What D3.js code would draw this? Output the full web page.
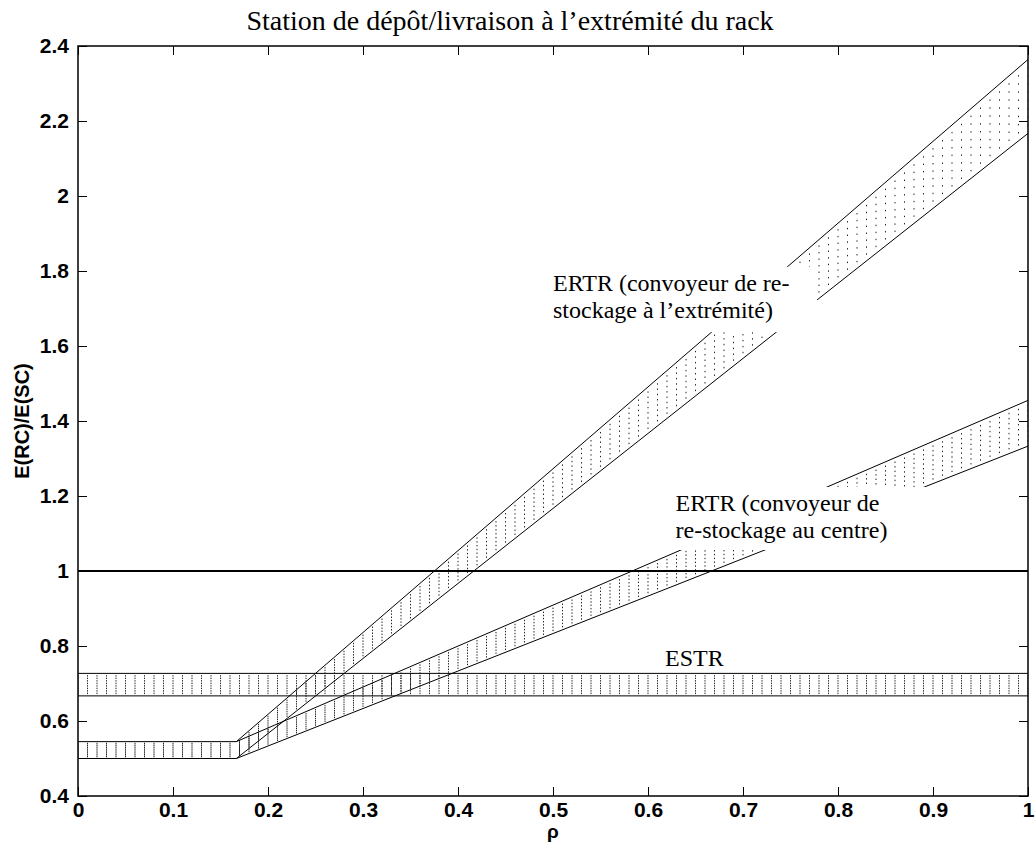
<!DOCTYPE html>
<html>
<head>
<meta charset="utf-8">
<script src="https://cdn.jsdelivr.net/npm/d3@7"></script>
<style>
  body { margin: 0; background: #fff; }
  text { fill: #000; }
</style>
</head>
<body>
<svg id="chart" width="1036" height="856"></svg>
<script>
    // tick labels
    const rhoTicks = [0, 0.1, 0.2, 0.3, 0.4, 0.5, 0.6, 0.7, 0.8, 0.9, 1];
    const ratioTicks = [0.4, 0.6, 0.8, 1, 1.2, 1.4, 1.6, 1.8, 2, 2.2, 2.4];

    // bands: rho knots, lower bound, upper bound
    const baseRho = [0, 1 / 6];
    const baseLow = [0.5, 0.5];
    const baseHigh = [0.545, 0.545];

    const ertrRho = [1 / 6, 1];
    const extremLow = [0.5, 2.167];
    const extremHigh = [0.545, 2.364];
    const centreLow = [0.5, 1.333];
    const centreHigh = [0.545, 1.455];

    const estrRho = [0, 1];
    const estrLow = [0.667, 0.667];
    const estrHigh = [0.727, 0.727];

    const refLevel = 1;

    const svg = d3.select("#chart"),
          margin = {top: 46, right: 8, bottom: 60, left: 78},
          width = +svg.attr("width") - margin.left - margin.right,
          height = +svg.attr("height") - margin.top - margin.bottom;

    svg.append("rect").attr("width", 1036).attr("height", 856).attr("fill", "#fff");

    const g = svg.append("g").attr("transform", `translate(${margin.left},${margin.top})`);

    const x = d3.scaleLinear().domain([0, 1]).range([0, width]);
    const y = d3.scaleLinear().domain([0.4, 2.4]).range([height, 0]);

    svg.append("defs").append("clipPath").attr("id", "plot")
      .append("rect").attr("width", width).attr("height", height);

    const plot = g.append("g").attr("clip-path", "url(#plot)");

    // dotted vertical hatching, one column every 0.01 of rho
    function hatch(rhos, lows, highs) {
      const lo = d3.scaleLinear().domain(rhos).range(lows);
      const hi = d3.scaleLinear().domain(rhos).range(highs);
      const cols = d3.range(Math.ceil(rhos[0] * 100 - 1e-9), Math.floor(rhos[1] * 100 + 1e-9) + 1).map(k => k / 100);
      const dots = [];
      cols.forEach(r => {
        const y0 = y(lo(r)), y1 = y(hi(r));
        for (let i = 1; i <= 8; i++) dots.push([x(r), y0 + (y1 - y0) * i / 9]);
      });
      plot.append("g").selectAll("rect")
        .data(dots)
        .enter().append("rect")
        .attr("x", d => d[0] - 0.5)
        .attr("y", d => d[1] - 0.7)
        .attr("width", 1)
        .attr("height", 1.4)
        .attr("fill", "#222");
    }

    function edges(rhos, lows, highs) {
      const line = d3.line().x(d => x(d[0])).y(d => y(d[1]));
      [lows, highs].forEach(vals => {
        plot.append("path")
          .datum(rhos.map((r, i) => [r, vals[i]]))
          .attr("fill", "none")
          .attr("stroke", "#000")
          .attr("stroke-width", 1)
          .attr("d", line);
      });
    }

    hatch(estrRho, estrLow, estrHigh);
    hatch(baseRho, baseLow, baseHigh);
    hatch(ertrRho, extremLow, extremHigh);
    hatch(ertrRho, centreLow, centreHigh);

    edges(estrRho, estrLow, estrHigh);
    edges(baseRho, baseLow, baseHigh);
    edges(ertrRho, extremLow, extremHigh);
    edges(ertrRho, centreLow, centreHigh);

    plot.append("line")
      .attr("x1", x(0)).attr("x2", x(1))
      .attr("y1", y(refLevel)).attr("y2", y(refLevel))
      .attr("stroke", "#000")
      .attr("stroke-width", 2);

    // labels with white background boxes (in data units)
    const labels = [
      {lines: ["ERTR (convoyeur de re-", "stockage à l’extrémité)"], rho: 0.5, val: 1.747, box: [0.49, 0.778, 1.637, 1.811]},
      {lines: ["ERTR (convoyeur de", "re-stockage au centre)"], rho: 0.629, val: 1.16, box: [0.618, 0.897, 1.056, 1.224]},
      {lines: ["ESTR"], rho: 0.618, val: 0.747, box: null}
    ];

    labels.forEach(l => {
      if (l.box) {
        plot.append("rect")
          .attr("x", x(l.box[0]))
          .attr("y", y(l.box[3]))
          .attr("width", x(l.box[1]) - x(l.box[0]))
          .attr("height", y(l.box[2]) - y(l.box[3]))
          .attr("fill", "#fff");
      }
      const t = g.append("text")
        .attr("x", x(l.rho))
        .attr("y", y(l.val))
        .style("font-family", "'Liberation Serif', 'Times New Roman', serif")
        .style("font-size", "24px");
      l.lines.forEach((s, i) => {
        t.append("tspan").attr("x", x(l.rho)).attr("dy", i ? 27 : 0).text(s);
      });
    });

    // axes box with inward ticks on all four sides
    const tickFont = "'Liberation Sans', Arial, sans-serif";
    const axB = g.append("g").attr("transform", `translate(0,${height})`)
      .call(d3.axisBottom(x).tickValues(rhoTicks).tickSizeInner(-9).tickSizeOuter(0).tickPadding(6).tickFormat(d3.format("")));
    const axT = g.append("g")
      .call(d3.axisTop(x).tickValues(rhoTicks).tickSizeInner(-9).tickSizeOuter(0).tickFormat(""));
    const axL = g.append("g")
      .call(d3.axisLeft(y).tickValues(ratioTicks).tickSizeInner(-9).tickSizeOuter(0).tickPadding(9).tickFormat(d3.format("")));
    const axR = g.append("g").attr("transform", `translate(${width},0)`)
      .call(d3.axisRight(y).tickValues(ratioTicks).tickSizeInner(-9).tickSizeOuter(0).tickFormat(""));

    [axB, axT, axL, axR].forEach(a => {
      a.select(".domain").remove();
      a.selectAll("line").attr("stroke", "#000").attr("stroke-width", 1);
      a.selectAll("text")
        .style("font-family", tickFont)
        .style("font-size", "21px")
        .style("font-weight", "bold")
        .attr("fill", "#000");
    });

    g.append("rect")
      .attr("width", width).attr("height", height)
      .attr("fill", "none")
      .attr("stroke", "#000")
      .attr("stroke-width", 1.5);

    // title
    svg.append("text")
      .attr("x", 510)
      .attr("y", 30)
      .attr("text-anchor", "middle")
      .style("font-family", "'Liberation Serif', 'Times New Roman', serif")
      .style("font-size", "28px")
      .text("Station de dépôt/livraison à l’extrémité du rack");

    // x-axis label
    svg.append("text")
      .attr("x", margin.left + width / 2)
      .attr("y", height + margin.top + 42)
      .attr("text-anchor", "middle")
      .style("font-family", tickFont)
      .style("font-size", "19px")
      .style("font-weight", "bold")
      .text("ρ");

    // y-axis label
    svg.append("text")
      .attr("transform", "rotate(-90)")
      .attr("x", -(margin.top + height / 2))
      .attr("y", 29)
      .attr("text-anchor", "middle")
      .style("font-family", tickFont)
      .style("font-size", "20px")
      .style("font-weight", "bold")
      .text("E(RC)/E(SC)");
</script>
</body>
</html>
